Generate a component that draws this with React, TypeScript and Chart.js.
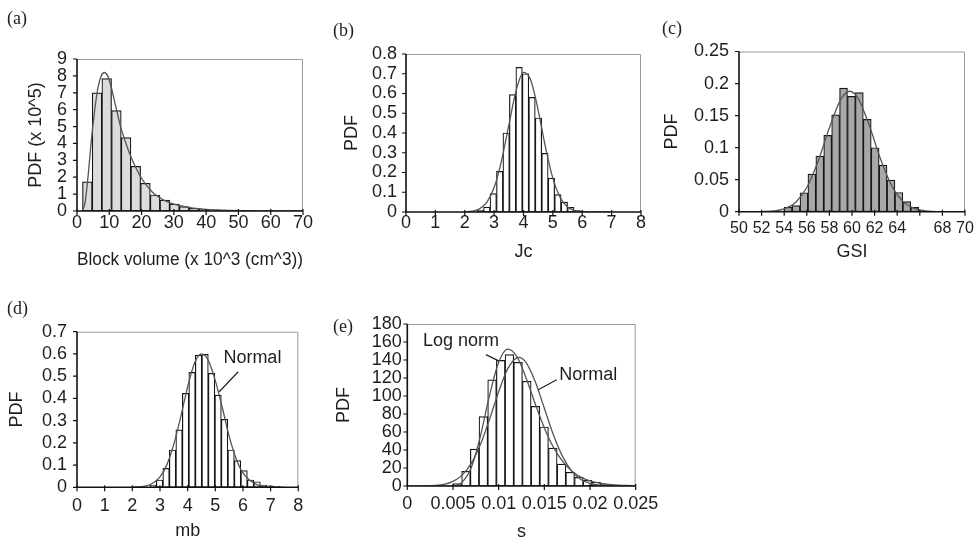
import React, { useEffect, useRef } from 'react';
import { Chart, registerables } from 'chart.js';

Chart.register(...registerables);

const FONT = "'Liberation Sans', Arial, Helvetica, sans-serif";
const SERIF = "'Liberation Serif', 'Times New Roman', serif";

// ---------- (a) Block volume ----------
const aBinCenters = [3.2, 6.2, 9.2, 12.2, 15.2, 18.2, 21.2, 24.2, 27.2, 30.2, 33.2, 36.2, 39.2, 42.2, 45.2, 48.2];
const aBinPdf = [1.72, 6.99, 7.84, 5.94, 4.34, 2.64, 1.64, 0.95, 0.65, 0.41, 0.26, 0.16, 0.1, 0.07, 0.05, 0.03];
const aFitX = [1.6, 2.5, 3.5, 4.5, 5.5, 6.5, 7.5, 8.5, 9.5, 10.5, 12, 13.5, 15, 16.5, 18, 19.5, 21, 22.5, 24, 27, 30, 33, 36, 40, 45, 50, 55, 60, 70];
const aFitPdf = [0, 0.5, 2.2, 4.3, 6.0, 7.3, 8.0, 8.2, 8.0, 7.4, 6.2, 5.0, 4.1, 3.3, 2.65, 2.1, 1.65, 1.3, 1.0, 0.63, 0.41, 0.27, 0.17, 0.1, 0.05, 0.025, 0.013, 0.007, 0.002];
const aXTicks = [0, 10, 20, 30, 40, 50, 60, 70];
const aXTickLabels = ['0', '10', '20', '30', '40', '50', '60', '70'];
const aYTicks = [0, 1, 2, 3, 4, 5, 6, 7, 8, 9];
const aYTickLabels = ['0', '1', '2', '3', '4', '5', '6', '7', '8', '9'];

// ---------- (b) Jc ----------
const bBinCenters = [2.53, 2.75, 2.97, 3.19, 3.41, 3.63, 3.85, 4.07, 4.29, 4.51, 4.73, 4.95, 5.17, 5.39, 5.61, 5.83];
const bBinPdf = [0.01, 0.025, 0.093, 0.206, 0.4, 0.594, 0.732, 0.7, 0.58, 0.476, 0.297, 0.172, 0.088, 0.05, 0.024, 0.007];
const bFitX = [2, 2.25, 2.5, 2.75, 3, 3.25, 3.5, 3.75, 4, 4.25, 4.5, 4.75, 5, 5.25, 5.5, 5.75, 6, 6.5, 7];
const bFitPdf = [0.001, 0.004, 0.016, 0.049, 0.124, 0.258, 0.44, 0.616, 0.707, 0.666, 0.515, 0.327, 0.17, 0.073, 0.025, 0.007, 0.002, 0, 0];
const bXTicks = [0, 1, 2, 3, 4, 5, 6, 7, 8];
const bXTickLabels = ['0', '1', '2', '3', '4', '5', '6', '7', '8'];
const bYTicks = [0, 0.1, 0.2, 0.3, 0.4, 0.5, 0.6, 0.7, 0.8];
const bYTickLabels = ['0', '0.1', '0.2', '0.3', '0.4', '0.5', '0.6', '0.7', '0.8'];

// ---------- (c) GSI ----------
const cBinCenters = [54.35, 55.05, 55.75, 56.45, 57.15, 57.85, 58.55, 59.25, 59.95, 60.65, 61.35, 62.05, 62.75, 63.45, 64.15, 64.85, 65.55];
const cBinPdf = [0.0068, 0.0094, 0.0296, 0.0587, 0.0868, 0.119, 0.151, 0.193, 0.18, 0.186, 0.144, 0.0998, 0.0728, 0.0494, 0.03, 0.0156, 0.0068];
const cFitX = [50, 52, 53, 54, 55, 56, 57, 58, 59, 59.8, 60.5, 61.5, 62.5, 63.5, 64.5, 65.5, 66.5, 68, 70];
const cFitPdf = [0, 0.0002, 0.0011, 0.0045, 0.0145, 0.0377, 0.0786, 0.131, 0.175, 0.188, 0.178, 0.136, 0.0835, 0.041, 0.0161, 0.0051, 0.0013, 0.0001, 0];
const cXTicks = [50, 52, 54, 56, 58, 60, 62, 64, 66, 68, 70];
const cXTickLabels = ['50', '52', '54', '56', '58', '60', '62', '64', '', '68', '70'];
const cYTicks = [0, 0.05, 0.1, 0.15, 0.2, 0.25];
const cYTickLabels = ['0', '0.05', '0.1', '0.15', '0.2', '0.25'];

// ---------- (d) mb ----------
const dBinCenters = [2.75, 2.985, 3.22, 3.455, 3.69, 3.925, 4.16, 4.395, 4.63, 4.865, 5.1, 5.335, 5.57, 5.805, 6.04, 6.275, 6.51, 6.745, 6.98, 7.215];
const dBinPdf = [0.0105, 0.033, 0.085, 0.168, 0.258, 0.423, 0.517, 0.595, 0.598, 0.513, 0.415, 0.306, 0.168, 0.12, 0.075, 0.033, 0.025, 0.0105, 0.007, 0.004];
const dFitX = [2, 2.5, 3, 3.25, 3.5, 3.75, 4, 4.25, 4.5, 4.75, 5, 5.25, 5.5, 5.75, 6, 6.5, 7, 7.5];
const dFitPdf = [0.0005, 0.0065, 0.047, 0.102, 0.194, 0.317, 0.452, 0.559, 0.6, 0.57, 0.48, 0.36, 0.23, 0.13, 0.065, 0.012, 0.002, 0];
const dXTicks = [0, 1, 2, 3, 4, 5, 6, 7, 8];
const dXTickLabels = ['0', '1', '2', '3', '4', '5', '6', '7', '8'];
const dYTicks = [0, 0.1, 0.2, 0.3, 0.4, 0.5, 0.6, 0.7];
const dYTickLabels = ['0', '0.1', '0.2', '0.3', '0.4', '0.5', '0.6', '0.7'];

// ---------- (e) s ----------
const eBinCenters = [0.005475, 0.006425, 0.007375, 0.008325, 0.009275, 0.010225, 0.011175, 0.012125, 0.013075, 0.014025, 0.014975, 0.015925, 0.016875, 0.017825, 0.018775, 0.019725, 0.020675, 0.021625];
const eBinPdf = [2.6, 16.3, 41, 77, 118, 139.6, 146, 137.4, 116.3, 88.5, 65.6, 42.2, 24.4, 15.2, 9.6, 6.3, 4.4, 2.2];
const eNormalX = [0, 0.002, 0.004, 0.005, 0.006, 0.007, 0.008, 0.009, 0.01, 0.011, 0.012, 0.0122, 0.013, 0.014, 0.015, 0.016, 0.017, 0.018, 0.019, 0.02, 0.021, 0.022, 0.025];
const eNormalPdf = [0.01, 0.18, 1.9, 5.1, 12.1, 25.2, 46.1, 74.1, 104.8, 130.4, 142.6, 143, 137.2, 116.1, 86.4, 56.6, 32.6, 16.5, 7.3, 2.9, 1.0, 0.3, 0];
const eLogX = [0.003, 0.004, 0.005, 0.006, 0.007, 0.008, 0.009, 0.01, 0.011, 0.012, 0.013, 0.014, 0.015, 0.016, 0.017, 0.018, 0.019, 0.02, 0.022, 0.024, 0.025];
const eLogPdf = [0, 0.01, 0.37, 4.27, 20.5, 55.3, 100.6, 137.4, 152.1, 143.7, 120.1, 91.4, 64.5, 42.9, 27.3, 16.7, 9.9, 5.7, 1.8, 0.55, 0.3];
const eXTicks = [0, 0.005, 0.01, 0.015, 0.02, 0.025];
const eXTickLabels = ['0', '0.005', '0.01', '0.015', '0.02', '0.025'];
const eYTicks = [0, 20, 40, 60, 80, 100, 120, 140, 160, 180];
const eYTickLabels = ['0', '20', '40', '60', '80', '100', '120', '140', '160', '180'];

type Curve = { xs: number[]; ys: number[] };
type Note = { text: string; x: number; y: number; from?: [number, number]; to?: [number, number] };
type Spec = {
  left: number; top: number; width: number; height: number;
  padTop: number; padRight: number; yAxisWidth: number; xAxisHeight: number;
  xMin: number; xMax: number; xTicks: number[]; xTickLabels: string[];
  yMin: number; yMax: number; yTicks: number[]; yTickLabels: string[];
  xTitle: string; yTitle: string;
  xTitlePad: number; yTitlePad: number; xTickPad: number; yTickPad: number; xTickSize: number;
  barX: number[]; barY: number[]; barFill: string;
  curves: Curve[]; notes: Note[];
};

const panels: Spec[] = [
  {
    left: 0, top: 40, width: 320, height: 235, padTop: 19, padRight: 17, yAxisWidth: 77, xAxisHeight: 64,
    xMin: 0, xMax: 70, xTicks: aXTicks, xTickLabels: aXTickLabels,
    yMin: 0, yMax: 9, yTicks: aYTicks, yTickLabels: aYTickLabels,
    xTitle: 'Block volume (x 10^3 (cm^3))', yTitle: 'PDF (x 10^5)',
    xTitlePad: 3.7, yTitlePad: 25.2, xTickPad: 1, yTickPad: 10, xTickSize: 18,
    barX: aBinCenters, barY: aBinPdf, barFill: '#dcdcdc',
    curves: [{ xs: aFitX, ys: aFitPdf }], notes: [],
  },
  {
    left: 320, top: 40, width: 330, height: 235, padTop: 14, padRight: 9, yAxisWidth: 86, xAxisHeight: 63,
    xMin: 0, xMax: 8, xTicks: bXTicks, xTickLabels: bXTickLabels,
    yMin: 0, yMax: 0.8, yTicks: bYTicks, yTickLabels: bYTickLabels,
    xTitle: 'Jc', yTitle: 'PDF',
    xTitlePad: 11.7, yTitlePad: 21.2, xTickPad: 0.5, yTickPad: 9, xTickSize: 18,
    barX: bBinCenters, barY: bBinPdf, barFill: '#ffffff',
    curves: [{ xs: bFitX, ys: bFitPdf }], notes: [],
  },
  {
    left: 650, top: 40, width: 325, height: 235, padTop: 11.5, padRight: 10, yAxisWidth: 89, xAxisHeight: 63.3,
    xMin: 50, xMax: 70, xTicks: cXTicks, xTickLabels: cXTickLabels,
    yMin: 0, yMax: 0.25, yTicks: cYTicks, yTickLabels: cYTickLabels,
    xTitle: 'GSI', yTitle: 'PDF',
    xTitlePad: 11.7, yTitlePad: 11.7, xTickPad: 7.7, yTickPad: 10, xTickSize: 16,
    barX: cBinCenters, barY: cBinPdf, barFill: '#a8a8a8',
    curves: [{ xs: cFitX, ys: cFitPdf }], notes: [],
  },
  {
    left: 0, top: 300, width: 320, height: 245, padTop: 31.7, padRight: 21.7, yAxisWidth: 77, xAxisHeight: 57.7,
    xMin: 0, xMax: 8, xTicks: dXTicks, xTickLabels: dXTickLabels,
    yMin: 0, yMax: 0.7, yTicks: dYTicks, yTickLabels: dYTickLabels,
    xTitle: 'mb', yTitle: 'PDF',
    xTitlePad: 3.5, yTitlePad: 6.2, xTickPad: 7.7, yTickPad: 10, xTickSize: 18,
    barX: dBinCenters, barY: dBinPdf, barFill: '#ffffff',
    curves: [{ xs: dFitX, ys: dFitPdf }],
    notes: [{ text: 'Normal', x: 6.34, y: 0.56, from: [5.83, 0.52], to: [5.14, 0.43] }],
  },
  {
    left: 320, top: 300, width: 345, height: 245, padTop: 24, padRight: 29.3, yAxisWidth: 87.3, xAxisHeight: 59,
    xMin: 0, xMax: 0.025, xTicks: eXTicks, xTickLabels: eXTickLabels,
    yMin: 0, yMax: 180, yTicks: eYTicks, yTickLabels: eYTickLabels,
    xTitle: 's', yTitle: 'PDF',
    xTitlePad: 2.2, yTitlePad: 13.2, xTickPad: 7.4, yTickPad: 5.5, xTickSize: 18,
    barX: eBinCenters, barY: eBinPdf, barFill: '#ffffff',
    curves: [{ xs: eNormalX, ys: eNormalPdf }, { xs: eLogX, ys: eLogPdf }],
    notes: [
      { text: 'Log norm', x: 0.00588, y: 155.6, from: [0.0086, 146], to: [0.01, 139] },
      { text: 'Normal', x: 0.0198, y: 117.8, from: [0.01635, 118.1], to: [0.01434, 107] },
    ],
  },
];

const panelLabels = [
  { text: '(a)', left: 7, top: 8 },
  { text: '(b)', left: 333, top: 20 },
  { text: '(c)', left: 662, top: 18 },
  { text: '(d)', left: 7, top: 298 },
  { text: '(e)', left: 333, top: 316 },
];

function Panel({ spec }: { spec: Spec }) {
  const ref = useRef<HTMLCanvasElement>(null);
  useEffect(() => {
    const frame = {
      id: 'frame',
      afterDatasetsDraw(chart: any) {
        const { ctx, chartArea } = chart;
        const { left, right, top, bottom } = chartArea;
        const xs = chart.scales.x;
        const ys = chart.scales.y;
        ctx.save();
        ctx.strokeStyle = '#9a9a9a';
        ctx.lineWidth = 1;
        ctx.beginPath();
        ctx.moveTo(left, top + 0.5);
        ctx.lineTo(right - 0.5, top + 0.5);
        ctx.lineTo(right - 0.5, bottom);
        ctx.stroke();
        ctx.strokeStyle = '#111';
        ctx.lineWidth = 1.6;
        ctx.beginPath();
        ctx.moveTo(left, top);
        ctx.lineTo(left, bottom);
        ctx.lineTo(right, bottom);
        ctx.stroke();
        ctx.lineWidth = 1.2;
        ctx.beginPath();
        xs.ticks.forEach((t: any) => {
          const px = xs.getPixelForValue(t.value);
          ctx.moveTo(px, bottom - 2);
          ctx.lineTo(px, bottom + 4);
        });
        ys.ticks.forEach((t: any) => {
          const py = ys.getPixelForValue(t.value);
          ctx.moveTo(left - 4, py);
          ctx.lineTo(left, py);
        });
        ctx.stroke();
        ctx.fillStyle = '#1e1e1e';
        ctx.font = `18px ${FONT}`;
        ctx.textAlign = 'center';
        ctx.textBaseline = 'alphabetic';
        spec.notes.forEach((n) => {
          ctx.fillText(n.text, xs.getPixelForValue(n.x), ys.getPixelForValue(n.y));
          if (n.from && n.to) {
            ctx.strokeStyle = '#222';
            ctx.lineWidth = 1.2;
            ctx.beginPath();
            ctx.moveTo(xs.getPixelForValue(n.from[0]), ys.getPixelForValue(n.from[1]));
            ctx.lineTo(xs.getPixelForValue(n.to[0]), ys.getPixelForValue(n.to[1]));
            ctx.stroke();
          }
        });
        ctx.restore();
      },
    };

    const datasets: any[] = [
      ...spec.curves.map((c) => ({
        type: 'line',
        data: c.xs.map((x, i) => ({ x, y: c.ys[i] })),
        borderColor: '#555555',
        borderWidth: 1.3,
        pointRadius: 0,
        fill: false,
        cubicInterpolationMode: 'monotone',
        order: 0,
      })),
      {
        type: 'bar',
        data: spec.barX.map((x, i) => ({ x, y: spec.barY[i] })),
        backgroundColor: spec.barFill,
        borderColor: '#151515',
        borderWidth: 1.2,
        barPercentage: 1,
        categoryPercentage: 1,
        borderSkipped: false,
        order: 1,
      },
    ];

    const chart = new Chart(ref.current as HTMLCanvasElement, {
      type: 'bar',
      data: { datasets },
      options: {
        responsive: false,
        animation: false,
        devicePixelRatio: 1,
        events: [],
        layout: { autoPadding: false, padding: { top: spec.padTop, right: spec.padRight, left: 0, bottom: 0 } },
        plugins: { legend: { display: false }, tooltip: { enabled: false } },
        scales: {
          x: {
            type: 'linear',
            min: spec.xMin,
            max: spec.xMax,
            offset: false,
            grid: { display: false, drawTicks: false, offset: false },
            border: { display: false },
            afterBuildTicks: (s: any) => { s.ticks = spec.xTicks.map((v) => ({ value: v })); },
            afterFit: (s: any) => { s.height = spec.xAxisHeight; s.paddingLeft = 0; s.paddingRight = 0; },
            ticks: {
              autoSkip: false, maxRotation: 0, minRotation: 0, padding: spec.xTickPad,
              font: { size: spec.xTickSize, family: FONT }, color: '#1e1e1e',
              callback: (_v: any, i: number) => spec.xTickLabels[i],
            },
            title: {
              display: true, text: spec.xTitle, color: '#1e1e1e',
              font: { size: 18, family: FONT }, padding: { top: 0, bottom: spec.xTitlePad },
            },
          },
          y: {
            type: 'linear',
            min: spec.yMin,
            max: spec.yMax,
            grid: { display: false, drawTicks: false },
            border: { display: false },
            afterBuildTicks: (s: any) => { s.ticks = spec.yTicks.map((v) => ({ value: v })); },
            afterFit: (s: any) => { s.width = spec.yAxisWidth; s.paddingTop = 0; s.paddingBottom = 0; },
            ticks: {
              autoSkip: false, padding: spec.yTickPad,
              font: { size: 18, family: FONT }, color: '#1e1e1e',
              callback: (_v: any, i: number) => spec.yTickLabels[i],
            },
            title: {
              display: true, text: spec.yTitle, color: '#1e1e1e',
              font: { size: 18, family: FONT }, padding: { top: spec.yTitlePad, bottom: 0 },
            },
          },
        },
      } as any,
      plugins: [frame],
    });
    return () => chart.destroy();
  }, [spec]);

  return (
    <canvas
      ref={ref}
      width={spec.width}
      height={spec.height}
      style={{ position: 'fixed', left: spec.left, top: spec.top, width: spec.width, height: spec.height }}
    />
  );
}

export default function App() {
  return (
    <div style={{ position: 'relative', width: 975, height: 540, background: '#fff' }}>
      {panels.map((p, i) => (
        <Panel key={i} spec={p} />
      ))}
      {panelLabels.map((l) => (
        <div
          key={l.text}
          style={{ position: 'fixed', left: l.left, top: l.top, fontFamily: SERIF, fontSize: 18, lineHeight: '20px', color: '#222' }}
        >
          {l.text}
        </div>
      ))}
    </div>
  );
}
